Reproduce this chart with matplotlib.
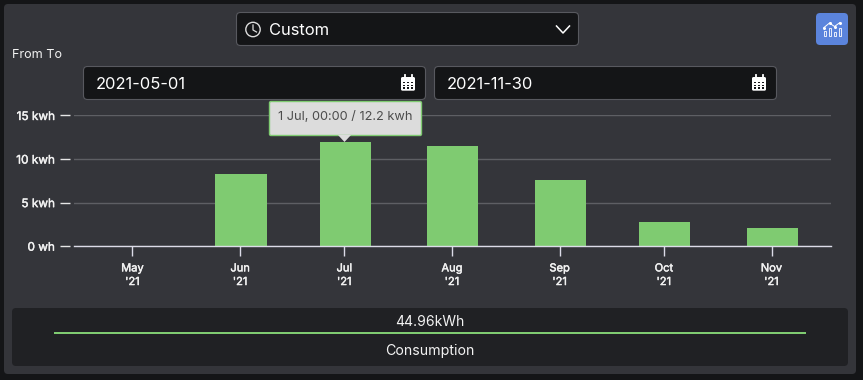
import datetime as dt
import matplotlib
matplotlib.use("Agg")
import matplotlib.pyplot as plt
import matplotlib.dates as mdates
import matplotlib.patheffects as pe
from matplotlib.patches import FancyBboxPatch, Rectangle, Circle, Polygon

months = [dt.datetime(2021, m, 1) for m in range(5, 12)]
month_labels = ["May\n'21", "Jun\n'21", "Jul\n'21", "Aug\n'21", "Sep\n'21", "Oct\n'21", "Nov\n'21"]
consumption = [0, 8.3, 11.95, 11.5, 7.6, 2.78, 2.08]
y_ticks = [0, 5, 10, 15]
y_labels = ["0 wh", "5 kwh", "10 kwh", "15 kwh"]
tooltip_text = "1 Jul, 00:00 / 12.2 kwh"
total_text = "44.96kWh"
series_name = "Consumption"
date_from = "2021-05-01"
date_to = "2021-11-30"
range_label = "Custom"

BG, PANEL, INPUT, LOWER = "#141517", "#34353a", "#141517", "#202124"
GREEN, WHITE = "#7fcb71", "#ffffff"
W, H = 863, 380
plt.rcParams["font.family"] = ["Inter", "DejaVu Sans"]

fig = plt.figure(figsize=(W / 100, H / 100), dpi=100, facecolor=BG)
bg = fig.add_axes([0, 0, 1, 1], zorder=0)
bg.set_xlim(0, W); bg.set_ylim(H, 0); bg.axis("off")


def box(ax, x0, y0, x1, y1, fc, ec="none", r=4, lw=1, z=1):
    ax.add_patch(FancyBboxPatch((x0 + r, y0 + r), x1 - x0 - 2 * r, y1 - y0 - 2 * r,
                                boxstyle=f"round,pad={r},rounding_size={r}", fc=fc, ec=ec, lw=lw, zorder=z))


box(bg, 4, 4, 856, 374, PANEL)
box(bg, 12, 308, 848, 366, LOWER)
box(bg, 236.5, 12.5, 578.5, 45.5, INPUT, "#58595f", lw=0.8)
box(bg, 83.5, 66.5, 425.5, 99.5, INPUT, "#58595f", lw=0.8)
box(bg, 434.5, 66.5, 776.5, 99.5, INPUT, "#58595f", lw=0.8)
box(bg, 816, 13, 848, 45, "#5b84dc")

# clock icon
bg.add_patch(Circle((253, 29.5), 7.2, fc="none", ec="#dcdcdc", lw=1.0, zorder=3))
bg.plot([253, 253, 256.5], [25, 30, 32], color="#dcdcdc", lw=0.9, zorder=3)
# chevron
bg.plot([556.5, 563, 569.5], [26, 33, 26], color=WHITE, lw=1.1, zorder=3)

# calendar icons
for cx in (408, 759):
    box(bg, cx - 7, 77, cx + 7, 90.7, WHITE, r=1.5, z=3)
    for tx in (cx - 3.5, cx + 3.5):
        bg.plot([tx, tx], [75, 78], color=WHITE, lw=1.3, zorder=3)
    for gy in (81.8, 84.5, 87.2):
        for gx in (cx - 5, cx - 1, cx + 3):
            bg.add_patch(Rectangle((gx, gy), 2, 1.6, fc=INPUT, zorder=4))

# chart button icon
for bx, by in ((825, 31), (830, 28), (835, 31.5), (839.5, 27.5)):
    bg.add_patch(Rectangle((bx - 1, by), 2, 36 - by, fc="none", ec=WHITE, lw=0.6, zorder=3))
bg.plot([824, 829.5, 834.5, 840], [27.5, 23, 26.5, 22.5], color=WHITE, lw=0.7, marker="o", ms=1.2, zorder=3)

# texts of the controls
bg.text(269, 30.2, range_label, color=WHITE, fontsize=11.9, va="center", ha="left", zorder=3)
bg.text(12, 55, "From To", color="#f2f2f2", fontsize=9.1, va="center", ha="left", zorder=3)
bg.text(96, 84.2, date_from, color=WHITE, fontsize=11.9, va="center", ha="left", zorder=3)
bg.text(447, 84.2, date_to, color=WHITE, fontsize=11.9, va="center", ha="left", zorder=3)
bg.text(430, 321.5, total_text, color="#f2f2f2", fontsize=10, va="center", ha="center", zorder=3)
bg.text(430, 350.5, series_name, color="#f2f2f2", fontsize=10.2, va="center", ha="center", zorder=3)
bg.add_patch(Rectangle((54, 332), 752, 2, fc=GREEN, zorder=3))

# chart
x_left, x_right, y_top, y_bot = 74, 831, 115.5, 246.2
ax = fig.add_axes([x_left / W, 1 - y_bot / H, (x_right - x_left) / W, (y_bot - y_top) / H], zorder=2)
ax.patch.set_alpha(0)
d0 = mdates.date2num(months[0])
ax.set_xlim(d0 - 16.84, d0 + 184 + 17.13)
ax.set_ylim(0, 15)
bar_shift = dt.timedelta(hours=6)
ax.bar([m + bar_shift for m in months], consumption, width=14.7, color=GREEN, zorder=3)
for s in ("top", "right"):
    ax.spines[s].set_visible(False)
ax.spines["left"].set_visible(False)
ax.spines["left"].set_position(("outward", 2.88))
ax.spines["bottom"].set_color("#dcdce8")
ax.spines["bottom"].set_linewidth(1)
ax.spines["bottom"].set_zorder(4)
ax.set_yticks(y_ticks, y_labels)
ax.set_xticks(months, month_labels)
ax.grid(axis="y", color="#5e5f64", lw=1, zorder=1)
ax.set_axisbelow(True)
ax.tick_params(axis="y", length=7.2, width=1, color="#e6e6e6", pad=3.6, labelsize=8.5, labelcolor="#f2f2f2")
ax.tick_params(axis="x", length=7.2, width=1, color="#dcdce8", pad=5.2, labelsize=8, labelcolor="#f2f2f2")
stroke = [pe.withStroke(linewidth=0.3, foreground="#f2f2f2")]
for lab in ax.get_yticklabels() + ax.get_xticklabels():
    lab.set_path_effects(stroke)
    lab.set_linespacing(1.45)

# tooltip drawn over the chart
fg = fig.add_axes([0, 0, 1, 1], zorder=5)
fg.set_xlim(0, W); fg.set_ylim(H, 0); fg.axis("off"); fg.patch.set_alpha(0)
box(fg, 269.5, 101.5, 421.5, 135.5, "#dcdcdc", GREEN, r=1.5, lw=1.0, z=6)
fg.add_patch(Polygon([[338, 135], [344.5, 142], [351, 135]], closed=True, fc="#dcdcdc", ec="none", zorder=7))
fg.text(345, 117, tooltip_text, color="#4c4c4c", fontsize=9.2, va="center", ha="center", zorder=8)

fig.savefig("out.png", dpi=100, facecolor=BG)
